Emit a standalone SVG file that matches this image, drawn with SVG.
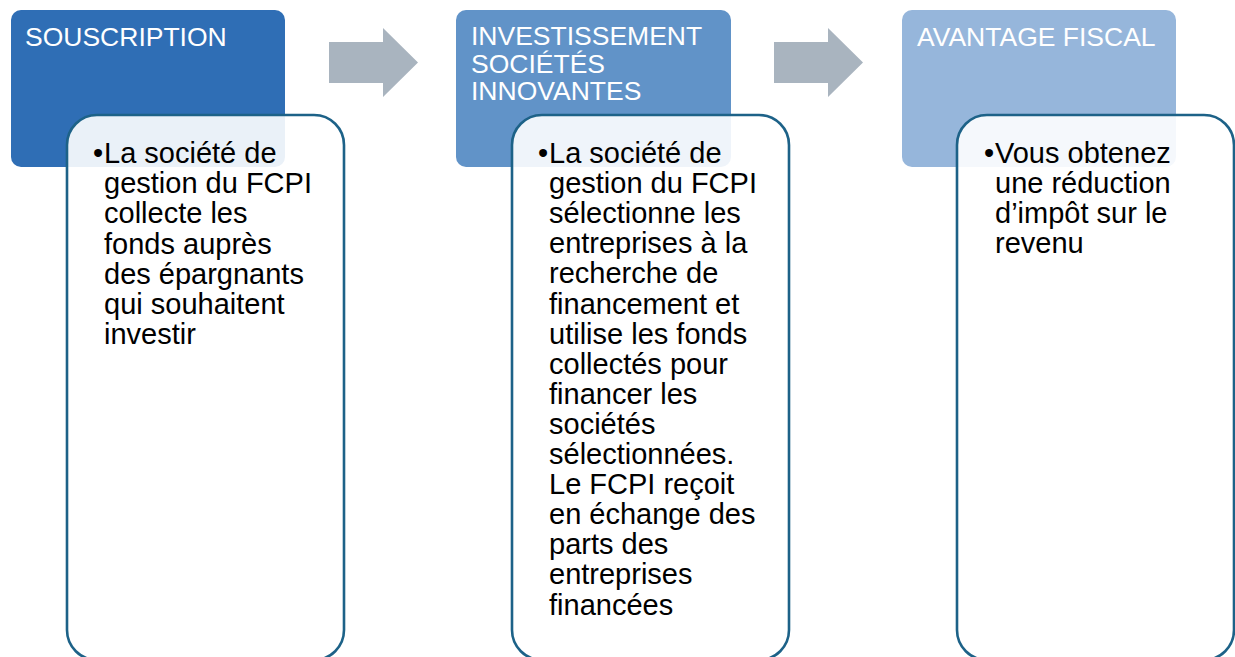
<svg xmlns="http://www.w3.org/2000/svg" width="1235" height="657" viewBox="0 0 1235 657">
<style>
.hdr-t{font-family:"Liberation Sans",Arial,sans-serif;font-size:26.5px;fill:#ffffff}
.body{fill:#ffffff;fill-opacity:0.9;stroke:#1D6288;stroke-width:2.6}
.txt{font-family:"Liberation Sans",Arial,sans-serif;font-size:29px;fill:#000000}
.arrow{fill:#A9B4BF}
</style>
<rect width="1235" height="657" fill="#ffffff"/>
<g id="connectors">
  <polygon class="arrow" points="329,42 383,42 383,28 418,62.5 383,97 383,83 329,83"/>
  <polygon class="arrow" points="774,42 828,42 828,28 863,62.5 828,97 828,83 774,83"/>
</g>
<g id="node-souscription">
  <rect x="11" y="10" width="274" height="157" rx="10" fill="#2F6EB5"/>
  <text class="hdr-t" x="25" y="46">SOUSCRIPTION</text>
  <rect class="body" x="67" y="115" width="277" height="545" rx="30"/>
  <text class="txt">
    <tspan x="93" y="163">•</tspan>
    <tspan x="104" y="163">La société de</tspan>
    <tspan x="104" y="193.2">gestion du FCPI</tspan>
    <tspan x="104" y="223.4">collecte les</tspan>
    <tspan x="104" y="253.6">fonds auprès</tspan>
    <tspan x="104" y="283.8">des épargnants</tspan>
    <tspan x="104" y="314">qui souhaitent</tspan>
    <tspan x="104" y="344.2">investir</tspan>
  </text>
</g>
<g id="node-investissement">
  <rect x="456" y="10" width="275" height="157" rx="10" fill="#6193C8"/>
  <text class="hdr-t">
    <tspan x="471" y="45">INVESTISSEMENT</tspan>
    <tspan x="471" y="72.5">SOCIÉTÉS</tspan>
    <tspan x="471" y="100">INNOVANTES</tspan>
  </text>
  <rect class="body" x="512" y="115" width="277" height="545" rx="30"/>
  <text class="txt">
    <tspan x="538" y="163">•</tspan>
    <tspan x="549" y="163">La société de</tspan>
    <tspan x="549" y="193.1">gestion du FCPI</tspan>
    <tspan x="549" y="223.2">sélectionne les</tspan>
    <tspan x="549" y="253.3">entreprises à la</tspan>
    <tspan x="549" y="283.4">recherche de</tspan>
    <tspan x="549" y="313.5">financement et</tspan>
    <tspan x="549" y="343.6">utilise les fonds</tspan>
    <tspan x="549" y="373.7">collectés pour</tspan>
    <tspan x="549" y="403.8">financer les</tspan>
    <tspan x="549" y="433.9">sociétés</tspan>
    <tspan x="549" y="464">sélectionnées.</tspan>
    <tspan x="549" y="494.1">Le FCPI reçoit</tspan>
    <tspan x="549" y="524.2">en échange des</tspan>
    <tspan x="549" y="554.3">parts des</tspan>
    <tspan x="549" y="584.4">entreprises</tspan>
    <tspan x="549" y="614.5">financées</tspan>
  </text>
</g>
<g id="node-avantage">
  <rect x="902" y="10" width="274" height="157" rx="10" fill="#96B6DB"/>
  <text class="hdr-t" x="917" y="46">AVANTAGE FISCAL</text>
  <rect class="body" x="957" y="115" width="277" height="545" rx="30"/>
  <text class="txt">
    <tspan x="984" y="163">•</tspan>
    <tspan x="995" y="163">Vous obtenez</tspan>
    <tspan x="995" y="193.1">une réduction</tspan>
    <tspan x="995" y="223.2">d’impôt sur le</tspan>
    <tspan x="995" y="253.3">revenu</tspan>
  </text>
</g>
</svg>
